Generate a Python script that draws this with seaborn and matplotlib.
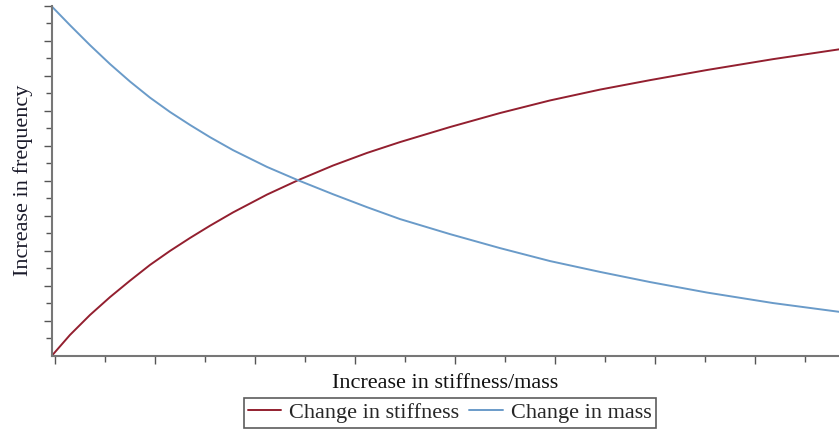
import numpy as np
import pandas as pd
import matplotlib.pyplot as plt
import seaborn as sns

# values (x in ratio units, y in frequency units)
x_vals = [0.0, 0.18, 0.38, 0.58, 0.78, 0.98, 1.18, 1.38, 1.58, 1.81, 2.15,
          2.46, 2.81, 3.15, 3.48, 3.98, 4.48, 4.98, 5.48, 5.98, 6.55, 7.21, 7.87]
stiffness = [0.0, 0.59, 1.16, 1.67, 2.14, 2.59, 2.99, 3.36, 3.71, 4.09, 4.60,
             5.01, 5.43, 5.79, 6.10, 6.53, 6.93, 7.29, 7.60, 7.87, 8.16, 8.47, 8.75]
mass = [9.97, 9.44, 8.87, 8.33, 7.83, 7.37, 6.96, 6.59, 6.24, 5.87, 5.39,
        5.01, 4.61, 4.24, 3.90, 3.47, 3.07, 2.70, 2.39, 2.10, 1.80, 1.50, 1.25]
labels = ["Change in stiffness", "Change in mass"]
colors = ["#931F2F", "#6A9BC9"]

df = pd.DataFrame({
    "x": x_vals * 2,
    "y": stiffness + mass,
    "series": [labels[0]] * len(x_vals) + [labels[1]] * len(x_vals),
})

sns.set_style("white")
plt.rcParams['font.family'] = ['Liberation Serif', 'DejaVu Serif']

fig = plt.figure(figsize=(8.39, 4.32), dpi=100)
ax = fig.add_axes([0.062, 0.177, 0.938, 0.81])

sns.lineplot(data=df, x="x", y="y", hue="series", palette=colors,
             linewidth=1.4, ax=ax, legend=False, sort=False)

ax.set_xlim(0, 7.87)
ax.set_ylim(0, 10)
ax.set_xticks(np.arange(0.03, 7.9, 1.0))
ax.set_xticks(np.arange(0.53, 7.9, 1.0), minor=True)
ax.set_yticks(np.arange(1, 10.01, 1.0))
ax.set_yticks(np.arange(0.5, 10, 1.0), minor=True)
ax.set_xticklabels([])
ax.set_yticklabels([])
ax.tick_params(axis='both', which='major', direction='out', length=6,
               width=1, color='#555555')
ax.tick_params(axis='both', which='minor', direction='out', length=4,
               width=1, color='#555555')
ax.tick_params(axis='x', which='both', bottom=True)
ax.tick_params(axis='y', which='both', left=True)

sns.despine(ax=ax)
for s in ['left', 'bottom']:
    ax.spines[s].set_color('#777777')
    ax.spines[s].set_linewidth(1.5)

ax.set_xlabel("Increase in stiffness/mass", fontsize=16, color='#111111',
              labelpad=4)
ax.set_ylabel("Increase in frequency", fontsize=16, color='#1a1a2a',
              labelpad=4)

handles = [plt.Line2D([0], [0], color=c, lw=1.4) for c in colors]
leg = fig.legend(handles, labels, loc='lower center', ncol=2,
                 bbox_to_anchor=(0.536, 0.0), fontsize=16, frameon=True,
                 fancybox=False, edgecolor='#333333', handlelength=1.5,
                 handletextpad=0.35, columnspacing=0.45, borderpad=0.2,
                 borderaxespad=0.2)
leg.get_frame().set_linewidth(1.2)

fig.savefig("out.png", dpi=100)
